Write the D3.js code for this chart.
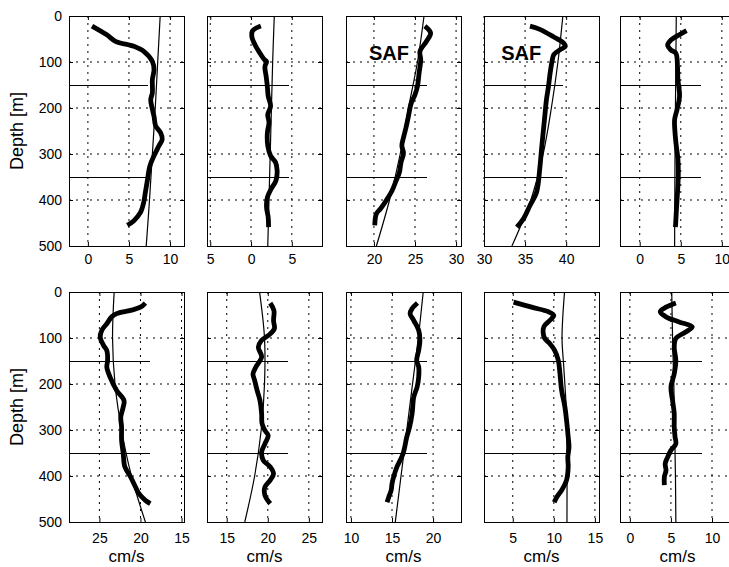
<!DOCTYPE html>
<html>
<head>
<meta charset="utf-8">
<script src="https://cdn.jsdelivr.net/npm/d3@7"></script>
<style>
  body { margin: 0; background: #fff; }
  svg { display: block; font-family: "Liberation Sans", Arial, Helvetica, sans-serif; }
</style>
</head>
<body>
<svg id="chart" width="729" height="567"></svg>
<script>
// --- Data ---
const depthTicks = [0, 100, 200, 300, 400, 500];
const gridDepths = [100, 200, 300, 400];
const markDepths = [150, 350];

// x limits of each panel (cm/s), panel 6 runs backwards
const xDomains = [
  [-2.3, 11.7], [-5.4, 8.7], [16.6, 30.6], [30, 44], [-2.4, 11.6],
  [28.7, 14.7], [12.6, 26.6], [9.4, 23.4], [1.5, 15.5], [-1.2, 12.8]
];
const xTicks = [
  [0, 5, 10], [-5, 0, 5], [20, 25, 30], [30, 35, 40], [0, 5, 10],
  [25, 20, 15], [15, 20, 25], [10, 15, 20], [5, 10, 15], [0, 5, 10]
];
const xTickLabels = [
  ["0", "5", "10"], ["5", "0", "5"], ["20", "25", "30"], ["30", "35", "40"], ["0", "5", "10"],
  ["25", "20", "15"], ["15", "20", "25"], ["10", "15", "20"], ["5", "10", "15"], ["0", "5", "10"]
];
// where the 150 m / 350 m marker lines stop (cm/s)
const markEnds = [7.3, 4.6, 26.4, 39.6, 7.4, 18.8, 22.5, 19.3, 11.5, 8.8];
// "SAF" notes: panel index, speed, depth of the baseline
const safPanels = [2, 3];
const safAt = [[19.4, 96], [32.1, 96]];

// observed profiles [speed, depth]
const obs1 = [[0.5,22],[2.3,41],[3.35,55],[5.6,66],[6.8,77],[7.85,99],[8.05,117],[7.85,138],[7.85,167],[7.65,182],[7.85,203],[8.05,218],[8.25,239],[8.85,254],[9.05,268],[8.65,282],[8.05,304],[7.55,326],[7.2,362],[7.0,383],[6.8,405],[6.4,427],[5.6,445],[4.8,455]];
const obs2 = [[1.2,22],[0.2,32],[0.1,45],[0.5,63],[1.1,81],[1.6,94],[1.9,99],[1.7,110],[1.85,131],[2.0,153],[2.1,174],[2.4,196],[2.05,214],[2.2,232],[2.0,254],[2.05,282],[2.4,304],[3.0,318],[3.2,336],[3.05,358],[2.5,375],[2.0,394],[1.9,416],[2.1,437],[2.15,459]];
const obs3 = [[26.2,22],[26.9,37],[26.4,55],[25.6,77],[25.7,95],[25.5,124],[25.3,153],[25.0,171],[24.5,192],[24.2,218],[23.9,243],[23.6,264],[23.4,282],[23.6,298],[23.3,318],[23.1,340],[22.7,358],[22.2,380],[21.5,401],[20.8,419],[20.3,430],[20.1,455]];
const obs4 = [[35.6,22],[36.8,29],[38.45,45],[39.7,59],[39.9,66],[39.3,73],[38.5,84],[38.3,97],[38.05,124],[37.85,153],[37.6,182],[37.4,218],[37.2,254],[37.0,290],[36.8,330],[36.4,383],[35.6,412],[34.8,441],[34.0,459]];
const obs5 = [[5.7,32],[5.1,38],[3.8,52],[3.4,63],[3.8,74],[4.4,81],[4.6,110],[4.65,138],[4.85,174],[4.55,203],[4.25,225],[4.3,254],[4.45,282],[4.65,311],[4.7,340],[4.65,369],[4.55,398],[4.45,427],[4.35,459]];
const obs6 = [[19.4,24],[20.0,33],[21.2,40],[22.9,47],[23.5,54],[24.1,69],[24.7,83],[24.9,98],[24.5,116],[24.1,127],[24.0,149],[24.1,163],[23.7,185],[22.9,214],[22.0,236],[22.1,250],[22.4,272],[22.3,293],[22.3,322],[22.1,351],[21.9,380],[21.2,402],[20.6,424],[20.2,438],[19.4,453],[18.8,460]];
const obs7 = [[20.3,24],[20.75,40],[20.7,62],[20.8,80],[20.1,94],[19.25,105],[18.85,120],[19.25,141],[18.55,163],[18.2,178],[18.4,192],[18.7,214],[19.05,236],[19.25,264],[19.3,286],[19.65,301],[20.05,312],[19.65,330],[19.25,348],[19.45,366],[20.3,380],[20.7,395],[20.3,409],[19.65,424],[19.65,442],[20.3,460]];
const obs8 = [[18.1,24],[17.45,36],[17.2,47],[17.65,62],[18.25,83],[18.4,105],[18.25,127],[18.0,149],[18.25,163],[18.25,185],[18.05,207],[17.65,228],[17.45,264],[17.15,293],[16.8,315],[16.55,337],[16.35,351],[16.0,366],[15.6,380],[15.2,402],[15.0,417],[14.9,431],[14.6,446],[14.4,457]];
const obs9 = [[5.1,22],[7.3,33],[9.35,43],[10.0,51],[9.5,62],[8.8,75],[8.7,88],[8.9,101],[9.5,112],[10.1,127],[10.55,149],[10.75,178],[10.95,214],[11.35,250],[11.55,279],[11.75,315],[11.85,337],[11.7,359],[11.75,380],[11.55,409],[10.95,431],[10.35,446],[10.05,457]];
const obs10 = [[5.6,24],[4.4,33],[3.7,43],[4.4,54],[6.0,65],[7.6,76],[6.8,87],[5.6,101],[5.4,120],[5.6,149],[5.4,178],[5.0,207],[5.2,236],[5.4,264],[5.4,293],[5.5,315],[5.6,330],[5.0,344],[4.6,359],[4.3,373],[4.4,388],[4.2,402],[4.2,420]];

// reference (thin) profiles
const ref1 = [[8.8,0],[8.5,100],[8.2,200],[7.85,300],[7.5,400],[7.1,500]];
const ref2 = [[2.85,0],[2.65,100],[2.5,200],[2.35,300],[2.2,400],[2.05,500]];
const ref3 = [[26.1,0],[25.3,100],[24.2,200],[23.2,300],[21.9,400],[20.3,500]];
const ref4 = [[39.6,0],[39.0,100],[38.2,200],[37.2,300],[35.7,400],[33.4,500]];
const ref5 = [[4.45,0],[4.4,100],[4.35,200],[4.3,300],[4.27,400],[4.25,500]];
const ref6 = [[23.2,0],[23.4,100],[23.1,200],[22.3,300],[21.1,400],[19.4,500]];
const ref7 = [[19.0,0],[19.6,100],[19.6,200],[19.2,300],[18.4,400],[17.2,500]];
const ref8 = [[18.8,0],[18.2,100],[17.5,200],[16.8,300],[16.1,400],[15.4,500]];
const ref9 = [[11.3,0],[11.0,100],[11.2,160],[11.5,250],[11.6,350],[11.6,500]];
const ref10 = [[5.1,0],[5.2,100],[5.35,200],[5.45,300],[5.55,400],[5.6,500]];

const observed = [obs1, obs2, obs3, obs4, obs5, obs6, obs7, obs8, obs9, obs10];
const reference = [ref1, ref2, ref3, ref4, ref5, ref6, ref7, ref8, ref9, ref10];

// --- Layout ---
const svg = d3.select("#chart");
const panelLefts = [69, 207, 346, 484, 620];
const rowTops = [16, 292];
const labelPad = [8, 11];
const pw = 115, ph = 230;
const dots = "2,5";

svg.append("rect").attr("width", 729).attr("height", 567).attr("fill", "#fff");

const y = d3.scaleLinear().domain([0, 500]).range([0, ph]);

observed.forEach((obs, i) => {
  const row = Math.floor(i / 5), col = i % 5;
  const g = svg.append("g")
    .attr("transform", `translate(${panelLefts[col]},${rowTops[row]})`);
  const x = d3.scaleLinear().domain(xDomains[i]).range([0, pw]);

  g.append("clipPath").attr("id", "clip" + i)
    .append("rect").attr("width", pw).attr("height", ph);

  // dotted grid
  g.append("g").selectAll("line")
    .data(xTicks[i])
    .join("line")
    .attr("x1", d => x(d)).attr("x2", d => x(d))
    .attr("y1", 0).attr("y2", ph)
    .attr("stroke", "#000").attr("stroke-width", 1)
    .attr("stroke-dasharray", dots);
  g.append("g").selectAll("line")
    .data(gridDepths)
    .join("line")
    .attr("x1", 0).attr("x2", pw)
    .attr("y1", d => y(d)).attr("y2", d => y(d))
    .attr("stroke", "#000").attr("stroke-width", 1)
    .attr("stroke-dasharray", dots);

  // 150 m and 350 m markers
  g.append("g").selectAll("line")
    .data(markDepths)
    .join("line")
    .attr("x1", x(xDomains[i][0])).attr("x2", x(markEnds[i]))
    .attr("y1", d => Math.round(y(d)) + 0.5).attr("y2", d => Math.round(y(d)) + 0.5)
    .attr("stroke", "#000").attr("stroke-width", 1)
    .attr("shape-rendering", "crispEdges");

  const line = d3.line()
    .x(d => x(d[0])).y(d => y(d[1]))
    .curve(d3.curveCatmullRom);

  const lines = g.append("g").attr("clip-path", `url(#clip${i})`);
  lines.append("path")
    .attr("d", line(reference[i]))
    .attr("fill", "none").attr("stroke", "#000").attr("stroke-width", 1.2);
  lines.append("path")
    .attr("d", line(obs))
    .attr("fill", "none").attr("stroke", "#000").attr("stroke-width", 4.8)
    .attr("stroke-linejoin", "round");

  // ticks on all four sides, pointing inward
  const fmt = (d) => xTickLabels[i][xTicks[i].indexOf(d)];
  g.append("g")
    .attr("transform", `translate(0,${ph})`)
    .call(d3.axisBottom(x).tickValues(xTicks[i]).tickFormat(fmt)
      .tickSizeInner(-4).tickSizeOuter(0).tickPadding(labelPad[row]))
    .call(a => a.select(".domain").remove())
    .call(a => a.selectAll("text").attr("font-size", 14).attr("font-family", null).attr("fill", "#000"));
  g.append("g")
    .call(d3.axisTop(x).tickValues(xTicks[i]).tickFormat("")
      .tickSizeInner(-4).tickSizeOuter(0))
    .call(a => a.select(".domain").remove());
  g.append("g")
    .call(d3.axisLeft(y).tickValues(depthTicks)
      .tickFormat(col === 0 ? d3.format("d") : "")
      .tickSizeInner(-4).tickSizeOuter(0).tickPadding(7))
    .call(a => a.select(".domain").remove())
    .call(a => a.selectAll("text").attr("font-size", 14).attr("font-family", null).attr("fill", "#000"));
  g.append("g")
    .attr("transform", `translate(${pw},0)`)
    .call(d3.axisRight(y).tickValues(depthTicks).tickFormat("")
      .tickSizeInner(-4).tickSizeOuter(0))
    .call(a => a.select(".domain").remove());

  // frame
  g.append("rect")
    .attr("x", 0.5).attr("y", 0.5)
    .attr("width", pw).attr("height", ph)
    .attr("fill", "none").attr("stroke", "#000").attr("stroke-width", 1)
    .attr("shape-rendering", "crispEdges");

  const s = safPanels.indexOf(i);
  if (s >= 0) {
    g.append("text")
      .attr("x", x(safAt[s][0])).attr("y", y(safAt[s][1]))
      .attr("font-size", 20).attr("font-weight", "bold")
      .text("SAF");
  }

  if (row === 1) {
    g.append("text")
      .attr("x", pw / 2).attr("y", ph + 40)
      .attr("text-anchor", "middle")
      .attr("font-size", 17)
      .text("cm/s");
  }
  if (col === 0) {
    g.append("text")
      .attr("transform", `translate(-46,${ph / 2}) rotate(-90)`)
      .attr("text-anchor", "middle")
      .attr("font-size", 18)
      .text("Depth [m]");
  }
});
</script>
</body>
</html>
